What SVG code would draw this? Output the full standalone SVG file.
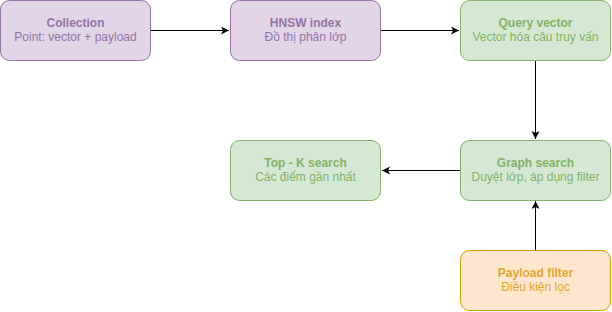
<svg xmlns="http://www.w3.org/2000/svg" width="612" height="312" viewBox="0 0 612 312">
<style>
.box{stroke-width:1}
.p{fill:#e1d5e7;stroke:#9673a6}
.g{fill:#d5e8d4;stroke:#82b366}
.o{fill:#ffe6cc;stroke:#d79b00}
text{font-family:"Liberation Sans",Arial,sans-serif;font-size:12px;text-anchor:middle}
.t{font-weight:bold}
.pt{fill:#9673a6}
.gt{fill:#82b366}
.ot{fill:#e0a830}
.c{stroke:#000;stroke-width:1;fill:none;marker-end:url(#arr)}
</style>
<defs>
<marker id="arr" markerUnits="userSpaceOnUse" markerWidth="10" markerHeight="10" refX="8" refY="4" orient="auto">
<path d="M0,0 L8,4 L0,8 L2,4 z" fill="#000"/>
</marker>
</defs>
<g id="connectors">
<path class="c" d="M150.5,30.5 H229"/>
<path class="c" d="M380.5,30.5 H459"/>
<path class="c" d="M535.5,60.5 V139"/>
<path class="c" d="M460.5,170.5 H382"/>
<path class="c" d="M535.5,250.5 V201"/>
</g>
<g id="collection">
<rect class="box p" x="0.5" y="0.5" width="150" height="60" rx="9"/>
<text class="t pt" x="75.5" y="27">Collection</text>
<text class="pt" x="75.5" y="41">Point: vector + payload</text>
</g>
<g id="hnsw">
<rect class="box p" x="230.5" y="0.5" width="150" height="60" rx="9"/>
<text class="t pt" x="305.5" y="27">HNSW index</text>
<text class="pt" x="305.5" y="41">Đồ thị phân lớp</text>
</g>
<g id="query">
<rect class="box g" x="460.5" y="0.5" width="150" height="60" rx="9"/>
<text class="t gt" x="535.5" y="27">Query vector</text>
<text class="gt" x="535.5" y="41">Vector hóa câu truy vấn</text>
</g>
<g id="graph">
<rect class="box g" x="460.5" y="140.5" width="150" height="60" rx="9"/>
<text class="t gt" x="535.5" y="167">Graph search</text>
<text class="gt" x="535.5" y="181">Duyệt lớp, áp dụng filter</text>
</g>
<g id="topk">
<rect class="box g" x="230.5" y="140.5" width="150" height="60" rx="9"/>
<text class="t gt" x="305.5" y="167">Top - K search</text>
<text class="gt" x="305.5" y="181">Các điểm gần nhất</text>
</g>
<g id="payload">
<rect class="box o" x="460.5" y="250.5" width="150" height="60" rx="9"/>
<text class="t ot" x="535.5" y="277">Payload filter</text>
<text class="ot" x="535.5" y="291">Điều kiện lọc</text>
</g>
</svg>
